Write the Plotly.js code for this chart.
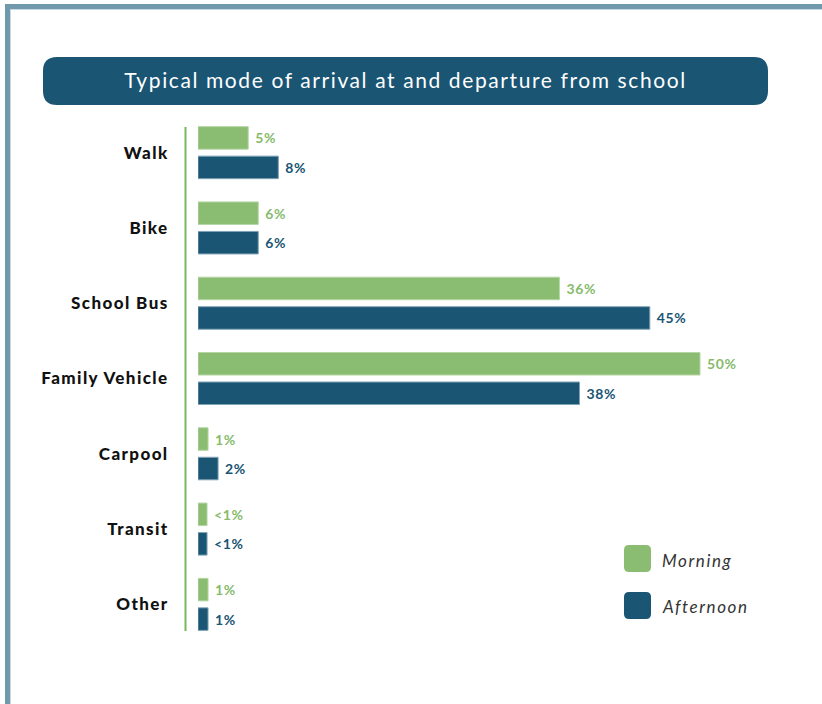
<!DOCTYPE html>
<html><head><meta charset="utf-8">
<script src="https://cdn.plot.ly/plotly-3.0.1.min.js"></script>
<style>
html,body{margin:0;padding:0;background:#fff;}
#chart{width:822px;height:704px;}
.ytick text{letter-spacing:1.4px;}
.gtitle{letter-spacing:1.6px;}
.bartext{letter-spacing:0.6px;}
.annotation-text{letter-spacing:1.6px;}
</style></head><body><div id="chart"></div>
<script>
// ---- data ----
const categories = ["Walk", "Bike", "School Bus", "Family Vehicle", "Carpool", "Transit", "Other"];
const seriesNames = ["Morning", "Afternoon"];
const morningValues = [5, 6, 36, 50, 1, 0.9, 1];
const afternoonValues = [8, 6, 45, 38, 2, 0.9, 1];
const morningLabels = ["5%", "6%", "36%", "50%", "1%", "<1%", "1%"];
const afternoonLabels = ["8%", "6%", "45%", "38%", "2%", "<1%", "1%"];
const titleText = "Typical mode of arrival at and departure from school";

// ---- styling ----
const GREEN = "#8abd71", BLUE = "#1a5574", GREEN_TXT = "#86bb6c", BORDER = "#7199ac";
const W = 822, H = 704, L = 198, R = 50, T = 115, B = 62;
const pw = W - L - R, ph = H - T - B;
const pxPerUnit = 10.04;
const px2x = p => (p - L) / pw;
const py2y = p => (H - B - p) / ph;
const NB = "\u00a0";

function roundRect(cx, cy, w, h, r, color) {
  const x0 = -w / 2, x1 = w / 2, y0 = -h / 2, y1 = h / 2;
  const path = `M${x0 + r},${y0} L${x1 - r},${y0} Q${x1},${y0} ${x1},${y0 + r} L${x1},${y1 - r} Q${x1},${y1} ${x1 - r},${y1} L${x0 + r},${y1} Q${x0},${y1} ${x0},${y1 - r} L${x0},${y0 + r} Q${x0},${y0} ${x0 + r},${y0} Z`;
  return {type: "path", xref: "paper", yref: "paper", xsizemode: "pixel", ysizemode: "pixel",
    xanchor: px2x(cx), yanchor: py2y(cy), path: path, fillcolor: color, line: {width: 0}, layer: "below"};
}

const traces = [
  {type: "bar", orientation: "h", name: seriesNames[0], y: categories, x: morningValues,
   text: morningLabels.map(s => NB + s), textposition: "outside", cliponaxis: false,
   outsidetextfont: {family: "Lato", size: 14, weight: "bold", color: GREEN_TXT},
   marker: {color: GREEN, line: {color: "#b5d6a4", width: 1}}, hoverinfo: "skip"},
  {type: "bar", orientation: "h", name: seriesNames[1], y: categories, x: afternoonValues,
   text: afternoonLabels.map(s => NB + s), textposition: "outside", cliponaxis: false,
   outsidetextfont: {family: "Lato", size: 14, weight: "bold", color: BLUE},
   marker: {color: BLUE, line: {color: "#7fa2b4", width: 1}}, hoverinfo: "skip"}
];

const shapes = [
  {type: "rect", xref: "paper", yref: "paper", x0: px2x(5), x1: px2x(10), y0: py2y(710), y1: py2y(4), fillcolor: BORDER, line: {width: 0}},
  {type: "rect", xref: "paper", yref: "paper", x0: px2x(5), x1: px2x(830), y0: py2y(9), y1: py2y(4), fillcolor: BORDER, line: {width: 0}},
  {type: "rect", xref: "paper", yref: "paper", x0: px2x(10), x1: px2x(11), y0: py2y(710), y1: py2y(9), fillcolor: "#c9d9e1", line: {width: 0}},
  {type: "rect", xref: "paper", yref: "paper", x0: px2x(10), x1: px2x(830), y0: py2y(10), y1: py2y(9), fillcolor: "#c9d9e1", line: {width: 0}},
  roundRect(405.5, 81, 725, 48, 14, BLUE),
  {type: "line", xref: "paper", yref: "paper", x0: px2x(185.5), x1: px2x(185.5), y0: py2y(127), y1: py2y(631), line: {color: "#79b65e", width: 2}},
  roundRect(637.5, 558.5, 27, 27, 5, GREEN),
  roundRect(637.5, 605.5, 27, 27, 5, BLUE)
];

const annotations = seriesNames.map((n, i) => ({
  xref: "paper", yref: "paper", x: px2x(660), y: py2y(560 + i * 46), xanchor: "left", yanchor: "middle",
  text: n, showarrow: false, font: {family: "Lato", size: 17, style: "italic", color: "#333"}
}));

const layout = {
  width: W, height: H, margin: {l: L, r: R, t: T, b: B, pad: 0},
  paper_bgcolor: "#fff", plot_bgcolor: "rgba(0,0,0,0)",
  showlegend: false, barmode: "group", bargap: 0.216, bargroupgap: 0.237,
  title: {text: titleText, font: {family: "Lato", size: 21, color: "#fff"},
    xref: "container", yref: "container", x: 405.5 / W, y: 1 - 81 / H, xanchor: "center", yanchor: "middle"},
  xaxis: {visible: false, range: [0, pw / pxPerUnit], fixedrange: true},
  yaxis: {type: "category", categoryorder: "array", categoryarray: categories, range: [6.5, -0.5],
    showgrid: false, zeroline: false, showline: false, ticks: "outside", ticklen: 25, tickcolor: "rgba(0,0,0,0)",
    tickfont: {family: "Lato", size: 17, weight: 900, color: "#111"}, fixedrange: true},
  shapes: shapes, annotations: annotations
};

Plotly.newPlot("chart", traces, layout, {staticPlot: true, displayModeBar: false});
</script></body></html>
